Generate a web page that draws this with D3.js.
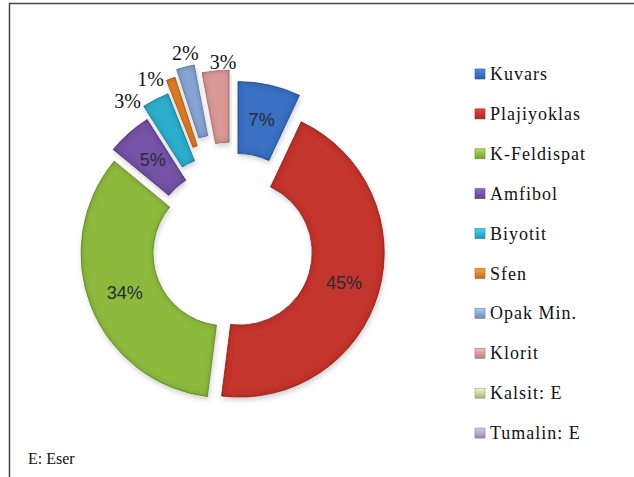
<!DOCTYPE html>
<html>
<head>
<meta charset="utf-8">
<script src="https://cdn.jsdelivr.net/npm/d3@7/dist/d3.min.js"></script>
<style>
  body { margin: 0; background: #fff; }
  svg { display: block; }
  .serif { font-family: "Liberation Serif", "Times New Roman", "DejaVu Serif", serif; }
  .sans { font-family: "Liberation Sans", Arial, sans-serif; }
</style>
</head>
<body>
<div id="chart"></div>
<script>
// data
const categories = ["Kuvars", "Plajiyoklas", "K-Feldispat", "Amfibol", "Biyotit", "Sfen", "Opak Min.", "Klorit", "Kalsit: E", "Tumalin: E"];
const values = [7, 45, 34, 5, 3, 1, 2, 3, 0, 0];
const footnote = "E: Eser";

// styling
const colors = ["#3a70c2", "#c4342f", "#8dba3e", "#7452a6", "#2eaecd", "#e6802a", "#86a5d5", "#da9896", "#c3d69b", "#b3a2c7"];
const explode = [25, 7.5, 7.5, 12, 25, 38, 45, 36, 0, 0];   // px each slice is pulled out
const outsideLabel = [null, null, null, null, [-28, 2], [-20, 0], [0, -14], [7.5, -9], null, null];

const width = 634, height = 477;
const cx = 232.5, cy = 250.5;
const outerR = 144.5, innerR = 72.5;

const svg = d3.select("#chart").append("svg")
    .attr("width", width)
    .attr("height", height);

const defs = svg.append("defs");

// bevel-ish shading: darken inner edges, soft drop shadow
const bevel = defs.append("filter").attr("id", "bevel")
    .attr("x", "-10%").attr("y", "-10%").attr("width", "120%").attr("height", "120%");
bevel.append("feGaussianBlur").attr("in", "SourceAlpha").attr("stdDeviation", 3).attr("result", "blur");
bevel.append("feComposite").attr("in", "SourceAlpha").attr("in2", "blur")
    .attr("operator", "arithmetic").attr("k2", 1).attr("k3", -1).attr("result", "edge");
bevel.append("feFlood").attr("flood-color", "#000").attr("flood-opacity", 0.5);
bevel.append("feComposite").attr("in2", "edge").attr("operator", "in").attr("result", "shade");
bevel.append("feGaussianBlur").attr("in", "SourceAlpha").attr("stdDeviation", 2.5).attr("result", "sblur");
bevel.append("feOffset").attr("in", "sblur").attr("dx", 1).attr("dy", 3).attr("result", "soff");
bevel.append("feFlood").attr("flood-color", "#000").attr("flood-opacity", 0.18);
bevel.append("feComposite").attr("in2", "soff").attr("operator", "in").attr("result", "drop");
const merge = bevel.append("feMerge");
merge.append("feMergeNode").attr("in", "drop");
merge.append("feMergeNode").attr("in", "SourceGraphic");
merge.append("feMergeNode").attr("in", "shade");

// legend square gradients
colors.forEach((c, i) => {
  const g = defs.append("linearGradient").attr("id", "lg" + i)
      .attr("x1", 0).attr("y1", 0).attr("x2", 0).attr("y2", 1);
  g.append("stop").attr("offset", "0%").attr("stop-color", d3.color(c).brighter(0.6));
  g.append("stop").attr("offset", "100%").attr("stop-color", d3.color(c).darker(0.5));
});

// frame (right and bottom edges run off the picture)
svg.append("rect")
    .attr("x", 9.5).attr("y", 3.5)
    .attr("width", width + 20).attr("height", height + 20)
    .attr("fill", "#fff")
    .attr("stroke", "#444")
    .attr("stroke-width", 1.5);

const data = categories.map((name, i) => ({ name, value: values[i], i }));

const pie = d3.pie().value(d => d.value).sort(null);
const arcs = pie(data);

const arc = d3.arc().innerRadius(innerR).outerRadius(outerR);
const rimArc = d3.arc().innerRadius(outerR).outerRadius(outerR);

function shift(d) {
  const a = (d.startAngle + d.endAngle) / 2;
  const e = explode[d.data.i];
  return [Math.sin(a) * e, -Math.cos(a) * e];
}

const g = svg.append("g").attr("transform", `translate(${cx},${cy})`);

g.selectAll("path")
  .data(arcs.filter(d => d.value > 0))
  .join("path")
    .attr("d", arc)
    .attr("transform", d => `translate(${shift(d)})`)
    .attr("fill", d => colors[d.data.i])
    .attr("stroke", d => d3.color(colors[d.data.i]).darker(0.7))
    .attr("stroke-width", 0.8)
    .attr("filter", "url(#bevel)");

// percentage labels
g.selectAll("text.pct")
  .data(arcs.filter(d => d.value > 0))
  .join("text")
    .attr("class", d => outsideLabel[d.data.i] ? "pct serif" : "pct sans")
    .attr("transform", d => {
      const s = shift(d);
      const off = outsideLabel[d.data.i];
      if (off) {
        const p = rimArc.centroid(d);
        return `translate(${p[0] + s[0] + off[0]},${p[1] + s[1] + off[1]})`;
      }
      const p = arc.centroid(d);
      return `translate(${p[0] + s[0]},${p[1] + s[1]})`;
    })
    .attr("text-anchor", "middle")
    .attr("dominant-baseline", "central")
    .attr("font-size", d => outsideLabel[d.data.i] ? 20 : 18)
    .attr("fill", d => outsideLabel[d.data.i] ? "#111" : "#2a2a3a")
    .text(d => d.value + "%");

// legend
const legend = svg.append("g").attr("transform", "translate(475,74)");
const rowH = 39.9;
const item = legend.selectAll("g")
  .data(data)
  .join("g")
    .attr("transform", (d, i) => `translate(0,${i * rowH})`);

item.append("rect")
    .attr("x", 0).attr("y", -5)
    .attr("width", 10).attr("height", 10)
    .attr("fill", d => `url(#lg${d.i})`)
    .attr("stroke", d => d3.color(colors[d.i]).darker(0.8))
    .attr("stroke-width", 0.6);

item.append("text")
    .attr("class", "serif")
    .attr("x", 15).attr("y", 0)
    .attr("dominant-baseline", "central")
    .attr("font-size", 18)
    .attr("letter-spacing", 1)
    .attr("fill", "#111")
    .text(d => d.name);

svg.append("text")
    .attr("class", "serif")
    .attr("x", 28).attr("y", 458)
    .attr("dominant-baseline", "central")
    .attr("font-size", 16)
    .attr("fill", "#111")
    .text(footnote);
</script>
</body>
</html>
